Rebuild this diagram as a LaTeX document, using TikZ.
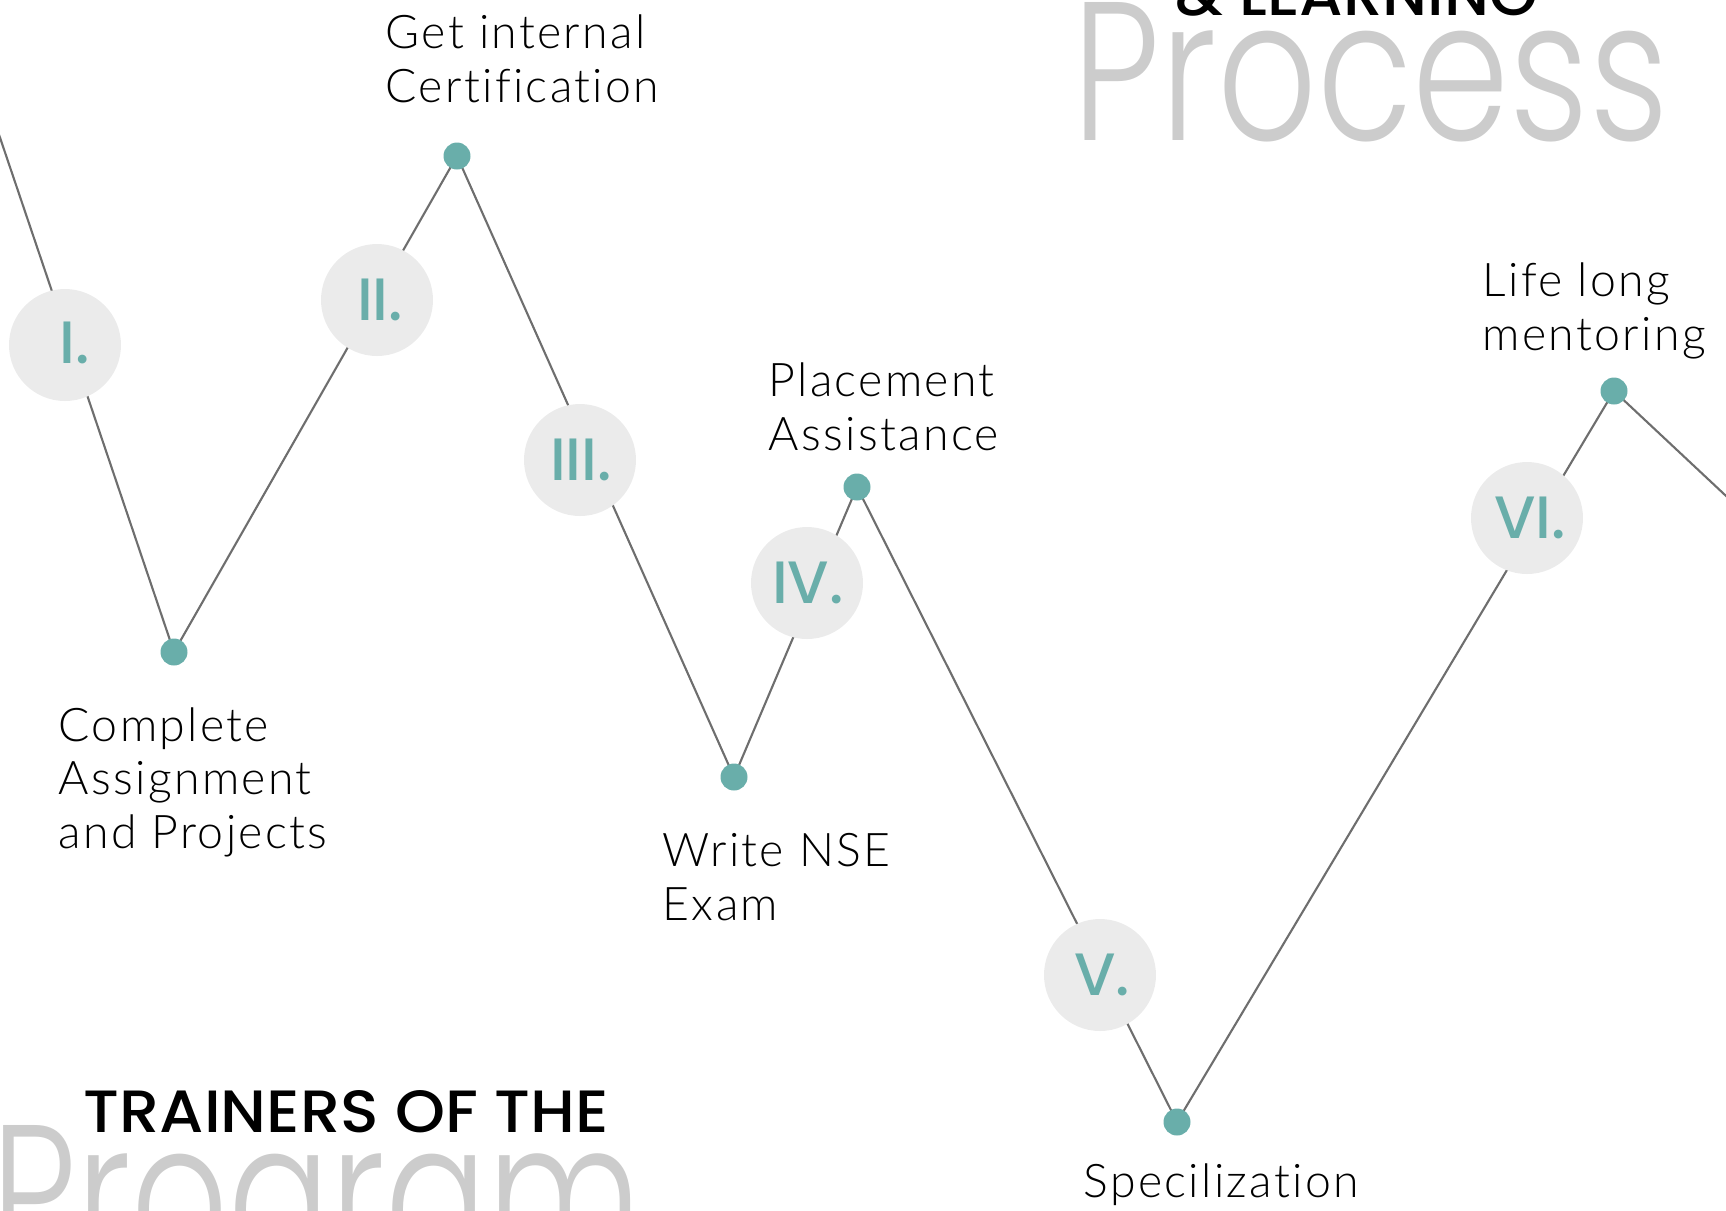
\documentclass[tikz,border=0pt]{standalone}
\usepackage{fontspec}
\usetikzlibrary{backgrounds}
\IfFontExistsTF{Lato Light}{\newfontfamily\labelfont{Lato Light}[LetterSpace=5,Ligatures=CommonOff]}{\newfontfamily\labelfont{Lato}[LetterSpace=5,Ligatures=CommonOff]}
\IfFontExistsTF{Poppins Light}{\newfontfamily\thinfont{Poppins Light}}{\newfontfamily\thinfont{Poppins}}
\IfFontExistsTF{Poppins Medium}{\newfontfamily\headfont{Poppins Medium}}{\newfontfamily\headfont{Poppins}}
\definecolor{tealdot}{HTML}{69AEAA}
\definecolor{discgray}{HTML}{EBEBEB}
\definecolor{wiregray}{HTML}{6E6E6E}
\definecolor{titlegray}{HTML}{CCCCCC}

\begin{document}
\begin{tikzpicture}[x=0.1mm,y=-0.1mm,
  zigzag/.style={wiregray,line width=0.6pt},
  milestone/.style={circle,fill=tealdot,minimum size=2.7mm,inner sep=0},
  stepdisc/.style={circle,fill=discgray,minimum size=11.2mm,inner sep=0},
  numeral/.style={text=tealdot,font=\headfont\fontsize{17}{20}\selectfont,inner sep=0},
  stepname/.style={font=\labelfont\fontsize{13.2}{15.2}\selectfont,align=left,anchor=base west,inner sep=0},
  bigword/.style={text=titlegray,anchor=base west,inner sep=0},
  heading/.style={anchor=base west,inner sep=0}]
\path[use as bounding box,clip] (0,0) rectangle (1726,1210);

% headings
\node[heading] (learning) at (1175,15) {\resizebox{36.2mm}{4.2mm}{\headfont\&~LEARNING}};
\node[bigword] (process) at (1072,140) {\resizebox{59.6mm}{13.8mm}{\thinfont Process}};
\node[heading] (trainers) at (83,1132) {\resizebox{52.5mm}{4.2mm}{\headfont TRAINERS OF THE}};
\node[bigword] (program) at (-9,1263) {\resizebox{65mm}{13.8mm}{\thinfont Program}};

% numbered discs
\node[stepdisc] (s1) at (65,345) {};
\node[stepdisc] (s2) at (377,300) {};
\node[stepdisc] (s3) at (580,460) {};
\node[stepdisc] (s4) at (807,583) {};
\node[stepdisc] (s5) at (1100,975) {};
\node[stepdisc] (s6) at (1527,518) {};
\node[numeral] (n1) at (75,343) {I.};
\node[numeral] (n2) at (380,300) {II.};
\node[numeral] (n3) at (581,460) {III.};
\node[numeral] (n4) at (808,583) {IV.};
\node[numeral] (n5) at (1102,975) {V.};
\node[numeral] (n6) at (1530,518) {VI.};

% milestones
\node[milestone] (d1) at (174,652) {};
\node[milestone] (d2) at (457,156) {};
\node[milestone] (d3) at (734,777) {};
\node[milestone] (d4) at (857,487) {};
\node[milestone] (d5) at (1177,1122) {};
\node[milestone] (d6) at (1614,391) {};

\coordinate (in) at (-10,108);
\coordinate (out) at (1740,509);
\begin{scope}[on background layer]
\draw[zigzag] (in) -- (d1.center) -- (d2.center) -- (d3.center) -- (d4.center)
  -- (d5.center) -- (d6.center) -- (out); %path
\end{scope}

% texts (anchored on the last line)
\node[stepname] (t1) at (58,848) {Complete\\Assignment\\and Projects};
\node[stepname] (t2) at (385,102) {Get internal\\Certification};
\node[stepname] (t3) at (662,920) {Write NSE\\Exam};
\node[stepname] (t4) at (768,450) {Placement\\Assistance};
\node[stepname] (t5) at (1083,1197) {Specilization};
\node[stepname] (t6) at (1482,350) {Life long\\mentoring};
\end{tikzpicture}
\end{document}
